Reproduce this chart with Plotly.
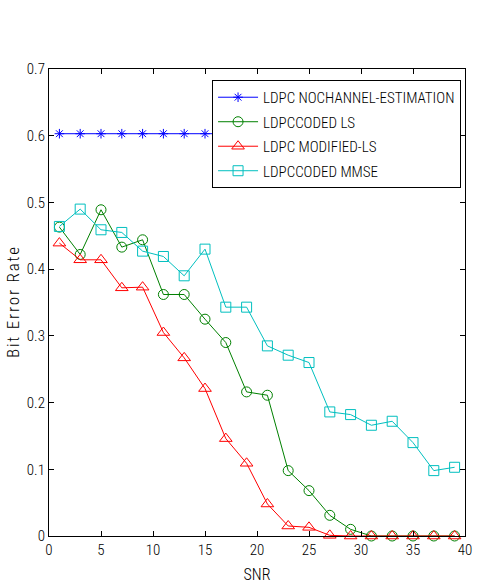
import plotly.graph_objects as go

snr = [1, 3, 5, 7, 9, 11, 13, 15, 17, 19, 21, 23, 25, 27, 29, 31, 33, 35, 37, 39]

ber_no_est = [0.603] * 20
ber_ls = [0.463, 0.422, 0.489, 0.433, 0.444, 0.362, 0.362, 0.325, 0.290, 0.216,
          0.211, 0.098, 0.068, 0.031, 0.010, 0.0, 0.0, 0.0, 0.0, 0.0]
ber_mod_ls = [0.439, 0.414, 0.414, 0.372, 0.373, 0.305, 0.267, 0.221, 0.146, 0.109,
              0.048, 0.015, 0.013, 0.001, 0.0, 0.0, 0.0, 0.0, 0.0, 0.0]
ber_mmse = [0.464, 0.490, 0.459, 0.455, 0.427, 0.419, 0.390, 0.430, 0.343, 0.343,
            0.285, 0.271, 0.260, 0.186, 0.182, 0.166, 0.172, 0.140, 0.098, 0.103]

x_ticks = [0, 5, 10, 15, 20, 25, 30, 35, 40]
y_ticks = [0, 0.1, 0.2, 0.3, 0.4, 0.5, 0.6, 0.7]
y_tick_text = ["0", "0.1", "0.2", "0.3", "0.4", "0.5", "0.6", "0.7"]

FONT = "Roboto Condensed, Liberation Sans, Arial"
WEIGHT = 350
HAIR = "\u200a"


def spaced(text):
    """Open up letter spacing with hair spaces between characters."""
    return HAIR.join(text)


series = [
    ("LDPC NOCHANNEL-ESTIMATION", ber_no_est, "#0000FF", "asterisk-open", 8),
    ("LDPCCODED LS", ber_ls, "#008000", "circle-open", 10),
    ("LDPC MODIFIED-LS", ber_mod_ls, "#FF0000", "triangle-up-open", 11),
    ("LDPCCODED MMSE", ber_mmse, "#00BFBF", "square-open", 10),
]

fig = go.Figure()
for name, vals, color, symbol, size in series:
    fig.add_trace(go.Scatter(
        x=snr, y=vals, name=name, legendgroup=name, mode="lines+markers",
        line=dict(color=color, width=1),
        marker=dict(symbol=symbol, size=size, color=color,
                    line=dict(color=color, width=1)),
        cliponaxis=False,
    ))

axis_common = dict(
    showgrid=False, zeroline=False, showline=True, linecolor="black",
    linewidth=1, mirror="ticks", ticks="inside", ticklen=5,
    tickcolor="black",
    tickfont=dict(family=FONT, size=15, color="black", weight=WEIGHT),
    ticklabeloverflow="allow",
)

fig.update_layout(
    width=479, height=587,
    margin=dict(l=49, r=7, t=69, b=50),
    paper_bgcolor="white", plot_bgcolor="white",
    font=dict(family=FONT, color="black", weight=WEIGHT),
    xaxis=dict(range=[0, 40], tickvals=x_ticks,
               title=dict(text="SNR", font=dict(family=FONT, size=16, weight=WEIGHT),
                          standoff=10),
               **axis_common),
    yaxis=dict(range=[0, 0.7], tickvals=y_ticks, ticktext=y_tick_text,
               title=dict(text=spaced("Bit Error Rate"),
                          font=dict(family=FONT, size=17, weight=WEIGHT), standoff=2),
               **axis_common),
    legend=dict(x=0.9905, xanchor="right", y=0.9765, yanchor="top",
                bgcolor="white", bordercolor="black", borderwidth=1,
                font=dict(family=FONT, size=15, color="black", weight=WEIGHT),
                tracegroupgap=2, itemwidth=40),
    showlegend=True,
)

fig.write_html("out.html")
